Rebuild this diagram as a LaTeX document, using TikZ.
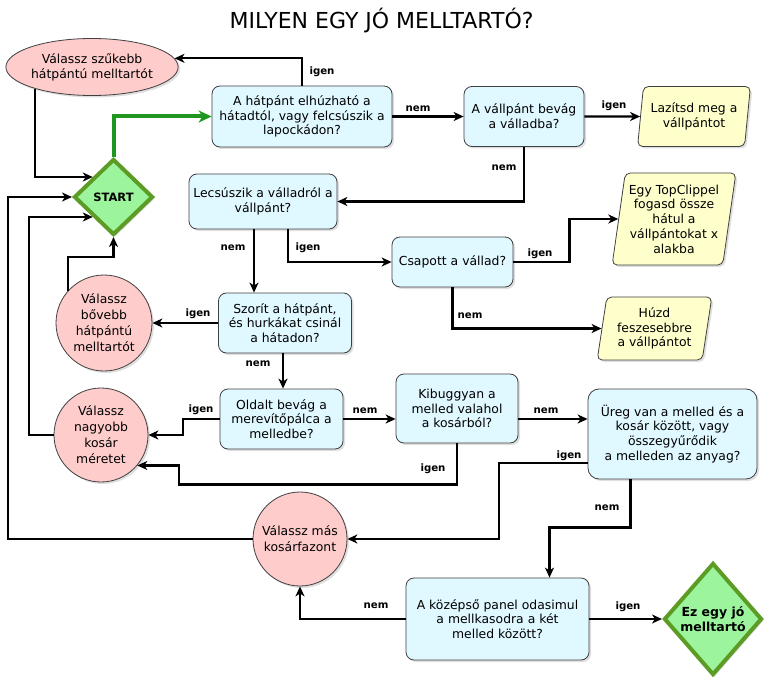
\documentclass[tikz,border=0pt]{standalone}
\usepackage{fontspec}
\setmainfont{DejaVu Sans}
\usetikzlibrary{shapes.geometric,shadows,arrows.meta}
\definecolor{boxfill}{HTML}{E0F8FF}
\definecolor{pinkfill}{HTML}{FFCCCC}
\definecolor{yelfill}{HTML}{FFFFCC}
\definecolor{grnfill}{HTML}{9CF59C}
\definecolor{grnline}{HTML}{5C9B24}
\definecolor{grnarrow}{HTML}{1F961F}
\definecolor{bordc}{HTML}{404040}
\begin{document}
\begin{tikzpicture}[x=1pt,y=-1pt,
  shade/.style={drop shadow={shadow xshift=2pt,shadow yshift=-2pt,opacity=0.25}},
  base/.style={font=\fontsize{12.4}{14.8}\selectfont, align=center, draw=bordc, line width=0.8pt, shade, inner sep=1pt},
  qbox/.style={base, rectangle, rounded corners=8pt, fill=boxfill},
  para/.style={base, trapezium, trapezium left angle=80, trapezium right angle=100, trapezium stretches=true, rounded corners=5pt, fill=yelfill},
  endc/.style={base, circle, fill=pinkfill, inner sep=0pt, font=\fontsize{12.4}{16}\selectfont},
  endell/.style={base, ellipse, fill=pinkfill, inner sep=0pt},
  term/.style={diamond, draw=grnline, line width=4pt, fill=grnfill, align=center, inner sep=0pt, shade, font=\bfseries\fontsize{11.5}{14}\selectfont},
  arr/.style={-{Stealth[length=10pt,width=9pt,inset=3pt]}, line width=2.2pt, black},
  garr/.style={-{Stealth[length=13pt,width=12pt,inset=4pt]}, line width=4pt, grnarrow},
  lbl/.style={font=\bfseries\fontsize{10.2}{12}\selectfont, inner sep=0pt}
]
\useasboundingbox (0,0) rectangle (784,687);
\fill[white] (0,0) rectangle (784,687);

\node[anchor=base, font=\fontsize{22}{26}\selectfont] (title) at (381.5,29) {MILYEN EGY JÓ MELLTARTÓ?};

\node[endell, minimum width=143, minimum height=57] (ell) at (92,67) {Válassz szűkebb\\hátpántú melltartót};
\node[qbox, minimum width=180, minimum height=61] (box1) at (302,116.5) {A hátpánt elhúzható a\\hátadtól, vagy felcsúszik a\\lapockádon?};
\node[qbox, minimum width=120, minimum height=60] (box2) at (524,116.5) {A vállpánt bevág\\a válladba?};
\node[para, minimum width=114, minimum height=60] (para1) at (694,116.5) {Lazítsd meg a\\vállpántot};
\node[term, minimum width=79, minimum height=76] (start) at (113.5,197) {START};
\node[qbox, minimum width=148, minimum height=55] (lec) at (263,201.5) {Lecsúszik a válladról a\\vállpánt?};
\node[para, minimum width=124, minimum height=92] (para2) at (674,219) {Egy TopClippel\\fogasd össze\\hátul a\\vállpántokat x\\alakba};
\node[qbox, minimum width=121, minimum height=50] (csap) at (452.5,262) {Csapott a vállad?};
\node[para, minimum width=115, minimum height=63] (para3) at (654.5,328.5) {Húzd\\feszesebbre\\a vállpántot};
\node[endc, minimum size=96] (circ2) at (104,323) {Válassz\\bővebb\\hátpántú\\melltartót};
\node[qbox, minimum width=133, minimum height=60] (szor) at (285,323) {Szorít a hátpánt,\\és hurkákat csinál\\a hátadon?};
\node[qbox, minimum width=123, minimum height=60] (old) at (281.5,419) {Oldalt bevág a\\merevítőpálca a\\melledbe?};
\node[endc, minimum size=94] (circ3) at (101,435) {Válassz\\nagyobb\\kosár\\méretet};
\node[qbox, minimum width=122, minimum height=69] (kib) at (457,408.5) {Kibuggyan a\\melled valahol\\a kosárból?};
\node[qbox, rounded corners=11pt, minimum width=169, minimum height=90] (ureg) at (672.5,434) {Üreg van a melled és a\\kosár között, vagy\\összegyűrődik\\a melleden az anyag?};
\node[endc, minimum size=94] (circ4) at (300,539) {Válassz más\\kosárfazont};
\node[qbox, minimum width=183, minimum height=82] (mid) at (497.5,619) {A középső panel odasimul\\a mellkasodra a két\\melled között?};
\node[term, minimum width=98, minimum height=112, font=\bfseries\fontsize{12.5}{15}\selectfont] (ez) at (713,619) {Ez egy jó\\melltartó};

% connectors
\draw[garr] (start.north) |- (box1.west);
\draw[arr] (box1.north) |- (ell.6);
\draw[arr] (box1.east) -- (box2.west);
\draw[arr] (box2.east) -- (para1.west);
\draw[arr] (box2.south) |- (lec.east);
\draw[arr] ([xshift=-9pt]lec.south) -- ([xshift=-9pt]lec.south |- szor.north);
\draw[arr] ([xshift=25pt]lec.south) |- (csap.west);
\draw[arr] (csap.east) -- ++(56,0) |- (para2.west);
\draw[arr] (csap.south) |- (para3.west);
\draw[arr] (szor.west) -- (circ2.east);
\draw[arr] (circ2.138) -- ++(0,-34) -| (start.south);
\draw[arr] ([xshift=-2pt]szor.south) -- ([xshift=-2pt]szor.south |- old.north);
\draw[arr] (old.west) -- ++(-37,0) |- (circ3.east);
\draw[arr] (old.east) -- (old.east -| kib.west);
\draw[arr] (kib.south) -- ++(0,41) -- ++(-278,0) |- (circ3.-40);
\draw[arr] (old.east -| kib.east) -- (old.east -| ureg.west);
\draw[arr] ([yshift=-29pt]ureg.west) -- ++(-89,0) |- (circ4.east);
\draw[arr] ([xshift=-42pt]ureg.south) -- ++(0,48) -| ([xshift=52pt]mid.north);
\draw[arr] (mid.west) -| (circ4.south);
\draw[arr] (mid.east) -- (ez.west);
\draw[arr] (circ3.west) -- ++(-25,0) |- (start.south west);
\draw[arr] (circ4.west) -- ++(-245,0) |- (start.west);
\draw[arr] (ell.201) |- (start.north west);

% labels
\node[lbl] (l1) at (322,72) {igen};
\node[lbl] (l2) at (418,109) {nem};
\node[lbl] (l3) at (614,106) {igen};
\node[lbl] (l4) at (504,168) {nem};
\node[lbl] (l5) at (233,248) {nem};
\node[lbl] (l6) at (308,248) {igen};
\node[lbl] (l7) at (540,254) {igen};
\node[lbl] (l8) at (470,316) {nem};
\node[lbl] (l9) at (198,314) {igen};
\node[lbl] (l10) at (258,364) {nem};
\node[lbl] (l11) at (201,410) {igen};
\node[lbl] (l12) at (365,411) {nem};
\node[lbl] (l13) at (433,469) {igen};
\node[lbl] (l14) at (546,411) {nem};
\node[lbl] (l15) at (569,456) {igen};
\node[lbl] (l16) at (607,508) {nem};
\node[lbl] (l17) at (376,606) {nem};
\node[lbl] (l18) at (628,607) {igen};
\end{tikzpicture}
\end{document}
